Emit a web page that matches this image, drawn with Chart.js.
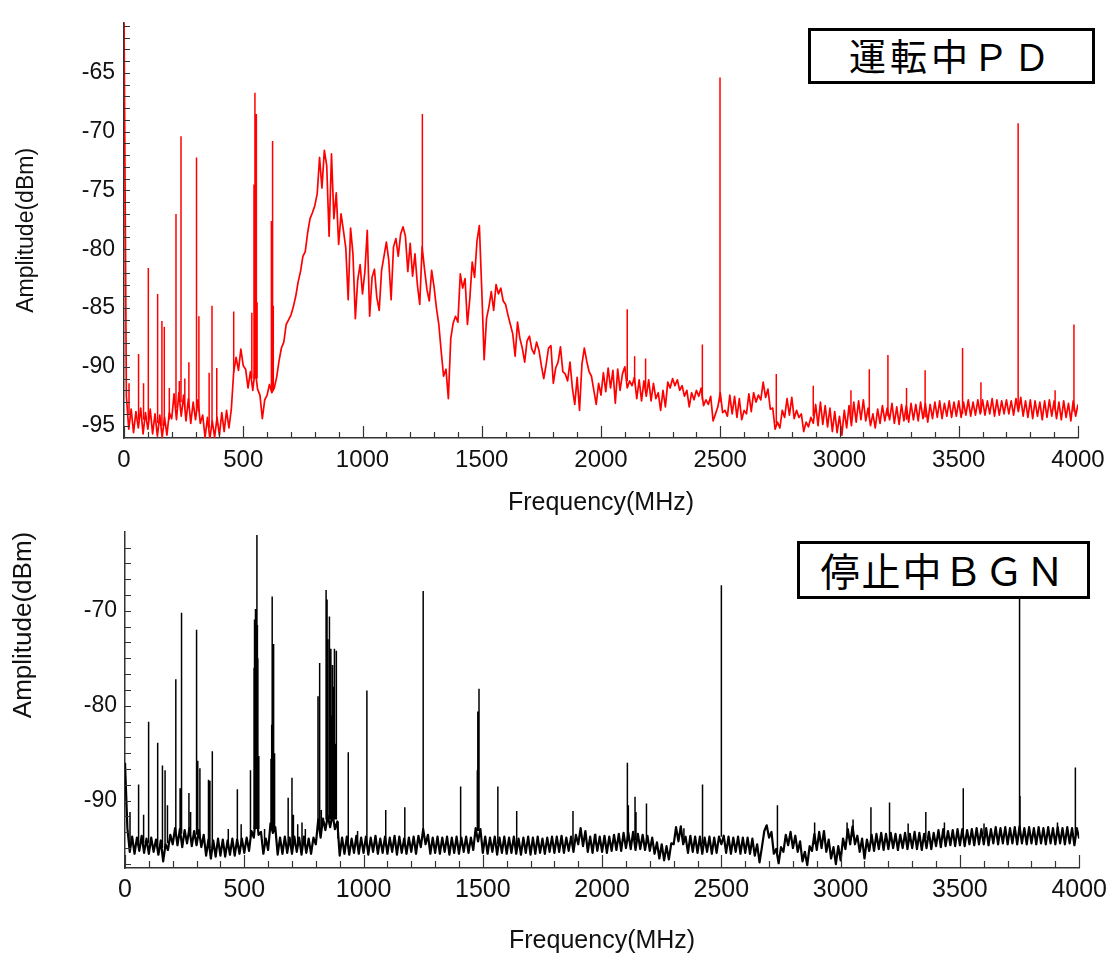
<!DOCTYPE html>
<html>
<head>
<meta charset="utf-8">
<script src="https://cdn.jsdelivr.net/npm/chart.js@4.4.1/dist/chart.umd.min.js"></script>
<style>
  body { margin: 0; background: #fff; }
  #wrap { position: relative; width: 1114px; height: 956px; }
  canvas { position: absolute; left: 0; }
  #topChart { top: 0; }
  #bottomChart { top: 510px; }
  .tag {
    position: absolute; box-sizing: border-box; border: 3px solid #000; background: #fff;
    font-family: "Noto Sans CJK JP", sans-serif; color: #000; text-align: center; white-space: nowrap;
  }
  #tagTop { left: 808px; top: 28px; width: 287px; height: 56px; font-size: 37px; line-height: 49px; letter-spacing: 4px; }
  #tagBottom { left: 797px; top: 541px; width: 293px; height: 58px; font-size: 39px; line-height: 51px; letter-spacing: 2px; }
</style>
</head>
<body>
<div id="wrap">
  <canvas id="topChart" width="1114" height="525"></canvas>
  <canvas id="bottomChart" width="1114" height="446"></canvas>
  <div class="tag" id="tagTop">運転中ＰＤ</div>
  <div class="tag" id="tagBottom">停止中ＢＧＮ</div>
</div>
<script>
// spectra on a 10 MHz grid (0..4000 MHz)
var freqStep = 10;

// running (運転中PD) - red
var redBase = [
  -60.0, -92.5, -95.3, -93.6, -95.6, -93.8, -95.2, -93.5, -95.7, -93.9,
  -95.3, -93.6, -95.7, -94.0, -95.9, -94.1, -96.0, -94.3, -95.8, -93.9,
  -94.4, -92.3, -94.5, -92.2, -94.2, -92.4, -94.6, -92.7, -94.8, -93.0,
  -94.5, -92.8, -94.8, -94.1, -96.0, -94.3, -96.1, -94.6, -96.0, -94.3,
  -95.8, -93.9, -95.5, -93.7, -95.2, -93.6, -90.4, -89.2, -90.3, -88.5,
  -89.9, -90.2, -91.8, -90.4, -92.0, -90.2, -91.9, -92.4, -94.4, -92.8,
  -92.4, -91.5, -92.2, -91.8, -90.9, -89.5, -88.4, -87.9, -86.4, -86.0,
  -85.6, -84.9, -84.0, -82.8, -81.9, -80.6, -80.2, -78.6, -77.4, -76.9,
  -76.3, -75.3, -72.2, -74.8, -71.6, -72.9, -78.9, -71.9, -77.4, -75.2,
  -79.6, -77.0, -78.4, -79.9, -84.3, -78.2, -80.4, -85.9, -82.6, -81.3,
  -83.8, -81.9, -78.4, -85.7, -82.4, -81.7, -84.1, -85.2, -81.8, -80.6,
  -79.4, -80.9, -84.3, -79.8, -79.1, -80.6, -78.7, -78.1, -78.9, -81.9,
  -79.5, -82.3, -80.4, -83.0, -84.7, -79.8, -81.7, -83.4, -84.4, -81.8,
  -83.2, -85.0, -86.4, -88.7, -90.8, -90.2, -92.7, -87.6, -86.3, -85.7,
  -86.2, -82.1, -83.3, -82.5, -86.4, -84.2, -81.1, -82.4, -79.3, -78.0,
  -83.4, -89.4, -85.9, -84.9, -83.6, -85.2, -83.0, -83.8, -83.3, -84.4,
  -84.7, -85.6, -86.4, -87.2, -89.1, -86.2, -87.6, -88.4, -89.6, -87.8,
  -87.4, -88.5, -88.9, -87.9, -88.6, -89.9, -91.0, -89.8, -88.4, -88.2,
  -91.4, -90.1, -89.6, -88.3, -90.4, -90.6, -91.2, -89.6, -91.8, -93.2,
  -90.9, -93.7, -89.8, -88.4, -89.5, -90.4, -90.8, -92.0, -93.2, -91.4,
  -92.4, -90.5, -92.1, -90.1, -91.8, -90.3, -93.1, -90.2, -92.0, -90.6,
  -90.0, -91.8, -91.2, -91.6, -90.9, -92.7, -91.1, -92.9, -91.2, -92.5,
  -91.1, -92.9, -91.4, -92.7, -92.2, -93.7, -92.0, -93.4, -91.3, -91.8,
  -91.0, -91.6, -91.1, -92.0, -91.6, -92.5, -92.0, -93.4, -92.2, -92.8,
  -92.0, -92.5, -91.8, -93.3, -92.8, -93.2, -92.5, -94.6, -94.0, -93.4,
  -92.2, -93.9, -93.7, -94.2, -92.4, -94.0, -92.5, -94.3, -92.7, -94.5,
  -93.7, -94.0, -92.3, -93.8, -92.2, -93.0, -92.4, -92.8, -91.3, -92.6,
  -91.9, -93.6, -93.5, -95.3, -94.7, -95.2, -93.7, -94.3, -92.7, -94.1,
  -92.6, -94.4, -93.7, -94.3, -94.0, -95.5, -94.7, -95.1, -94.3, -94.8,
  -93.2, -95.0, -93.0, -94.9, -93.3, -95.1, -93.5, -95.5, -93.8, -95.6,
  -94.2, -95.8, -93.7, -95.2, -93.3, -95.0, -93.0, -94.7, -92.9, -94.5,
  -92.8, -94.6, -93.5, -95.0, -94.0, -95.2, -93.6, -94.8, -93.3, -94.6,
  -93.5, -94.5, -93.1, -94.8, -93.4, -94.9, -93.2, -94.6, -93.3, -94.7,
  -93.1, -94.5, -93.2, -94.6, -93.0, -94.4, -93.1, -94.7, -93.2, -94.4,
  -93.0, -94.3, -92.9, -94.4, -93.1, -94.2, -92.9, -94.3, -93.0, -94.2,
  -92.9, -94.3, -93.0, -94.1, -92.8, -94.2, -93.0, -94.1, -92.8, -94.0,
  -92.8, -94.1, -92.9, -94.0, -92.7, -94.2, -92.8, -94.1, -92.9, -94.0,
  -92.8, -94.0, -92.9, -94.1, -92.7, -93.8, -92.6, -94.2, -92.9, -94.3,
  -92.8, -94.4, -92.9, -94.2, -93.0, -94.5, -92.9, -94.3, -92.8, -94.2,
  -92.9, -94.4, -93.0, -94.5, -92.9, -94.3, -93.1, -94.6, -92.9, -94.2,
  -93.2
];

// narrow lines: frequency, foot level, top level
var redSpikeFreq = [21, 61, 82, 102, 141, 159, 169, 190, 218, 232, 239, 255, 272, 304, 314, 357, 369, 389, 460, 536,
  545, 549, 552, 555, 558, 618, 623, 626, 1251, 2110, 2141, 2187, 2425, 2499, 2735, 2890, 3048, 3125, 3203,
  3281, 3359, 3516, 3593, 3749, 3904, 3983];
var redSpikeLow = [-94.0, -94.5, -94.5, -94.5, -94.8, -95.0, -95.0, -94.5, -93.5, -93.0, -93.0, -93.5, -93.5, -93.8, -93.8, -95.2, -95.2, -95.0, -90.5, -91.0,
  -91.0, -91.0, -91.0, -91.0, -91.0, -92.0, -92.0, -92.0, -80.0, -91.2, -91.4, -92.0, -92.8, -93.0, -94.8, -94.2, -94.4, -94.3, -94.2,
  -94.5, -94.3, -94.0, -93.9, -93.5, -93.7, -93.8];
var redSpikeTop = [-91.4, -88.9, -91.4, -81.6, -83.8, -86.1, -86.6, -91.8, -77.0, -91.2, -70.4, -91.0, -89.6, -72.2, -85.7, -90.5, -84.8, -90.1, -85.3, -85.4,
  -74.5, -66.7, -74.3, -68.5, -84.5, -77.6, -70.8, -84.8, -68.5, -85.1, -89.1, -89.3, -88.1, -65.4, -90.6, -91.6, -92.0, -90.2, -89.0,
  -91.8, -90.3, -88.4, -91.3, -69.3, -92.0, -86.4];

// stopped (停止中BGN) - black
var blackBase = [
  -86.0, -92.9, -95.4, -93.8, -95.6, -93.9, -95.3, -93.7, -95.5, -94.0,
  -95.6, -93.9, -95.4, -94.1, -95.7, -94.2, -96.4, -94.6, -95.2, -93.6,
  -94.6, -92.9, -94.7, -93.0, -94.9, -93.1, -94.5, -92.9, -94.8, -93.2,
  -94.7, -93.1, -94.9, -93.6, -95.8, -94.1, -96.1, -94.2, -95.9, -94.0,
  -95.8, -94.1, -95.9, -94.2, -95.7, -94.0, -95.8, -94.1, -95.6, -94.0,
  -95.5, -93.9, -95.3, -93.2, -93.9, -91.2, -93.6, -93.3, -95.6, -94.0,
  -95.2, -92.4, -93.4, -92.8, -95.7, -93.9, -95.6, -93.8, -95.5, -93.9,
  -95.6, -93.8, -95.4, -93.9, -95.7, -93.8, -95.5, -94.0, -95.6, -93.9,
  -94.6, -92.0, -93.9, -91.9, -93.1, -91.6, -92.8, -91.4, -93.0, -92.2,
  -95.8, -93.9, -95.6, -93.8, -95.7, -94.0, -95.5, -93.7, -95.6, -93.9,
  -95.5, -93.8, -95.7, -93.9, -95.4, -93.7, -95.6, -94.0, -95.5, -93.8,
  -95.6, -93.9, -95.4, -93.7, -95.7, -93.8, -95.5, -94.0, -95.6, -93.9,
  -95.4, -93.8, -95.6, -93.7, -94.9, -93.0, -94.6, -93.6, -95.6, -93.9,
  -95.5, -93.8, -95.6, -93.9, -95.4, -93.8, -95.7, -93.9, -95.5, -93.8,
  -95.6, -93.9, -95.4, -93.8, -95.5, -93.9, -95.2, -92.9, -94.3, -93.0,
  -95.5, -93.8, -95.6, -93.9, -95.4, -93.8, -95.7, -93.9, -95.5, -93.8,
  -95.6, -93.9, -95.5, -93.8, -95.6, -94.0, -95.7, -93.9, -95.5, -93.8,
  -95.7, -93.9, -95.6, -93.8, -95.5, -94.0, -95.6, -93.9, -95.4, -93.8,
  -95.5, -93.8, -95.4, -93.7, -95.5, -93.9, -95.3, -93.8, -95.4, -93.6,
  -94.6, -92.9, -94.8, -93.2, -95.4, -93.8, -95.5, -93.6, -95.3, -93.8,
  -95.4, -93.7, -95.5, -93.8, -95.3, -93.6, -95.2, -93.5, -95.3, -93.4,
  -95.0, -93.4, -95.1, -93.3, -95.2, -93.5, -95.1, -93.6, -95.2, -93.7,
  -95.3, -93.9, -95.6, -94.4, -96.1, -94.6, -96.3, -94.8, -96.2, -94.5,
  -94.6, -92.8, -94.3, -92.7, -94.6, -93.8, -95.5, -93.7, -95.4, -93.8,
  -95.5, -93.8, -95.6, -93.9, -95.4, -93.8, -95.6, -93.9, -95.5, -93.8,
  -94.6, -93.7, -95.5, -93.8, -95.6, -93.9, -95.4, -93.8, -95.6, -93.9,
  -95.5, -93.9, -95.6, -94.0, -95.8, -94.6, -96.5, -94.9, -93.2, -92.6,
  -93.9, -93.3, -95.6, -95.1, -96.6, -94.9, -95.4, -93.6, -94.7, -93.3,
  -95.0, -93.7, -95.4, -94.3, -96.4, -95.4, -96.8, -94.8, -95.3, -93.5,
  -95.2, -93.3, -95.0, -93.2, -95.4, -94.1, -96.1, -94.9, -96.7, -94.8,
  -96.3, -94.0, -95.1, -93.0, -94.6, -92.7, -94.6, -93.7, -95.4, -94.0,
  -96.1, -94.1, -95.3, -93.6, -95.3, -93.5, -95.1, -93.4, -95.2, -93.5,
  -95.1, -93.4, -95.0, -93.5, -95.2, -93.6, -95.0, -93.4, -95.1, -93.5,
  -95.0, -93.3, -95.1, -93.4, -95.2, -93.5, -95.0, -93.3, -95.1, -93.4,
  -94.8, -93.1, -94.9, -93.0, -94.8, -93.2, -94.7, -93.1, -94.8, -93.0,
  -94.7, -93.0, -94.8, -93.1, -94.6, -93.0, -94.7, -92.9, -94.6, -93.0,
  -94.6, -92.9, -94.7, -93.0, -94.5, -92.8, -94.6, -92.9, -94.5, -92.8,
  -94.6, -92.9, -94.5, -92.8, -94.6, -92.7, -94.5, -92.9, -94.6, -92.8,
  -94.5, -92.9, -94.6, -92.8, -94.5, -92.9, -94.6, -92.8, -94.5, -92.9,
  -94.6, -92.8, -94.5, -92.9, -94.6, -92.8, -94.5, -92.9, -94.7, -92.9,
  -94.0
];

var blackSpikeFreq = [21, 57, 78, 99, 137, 157, 168, 178, 213, 231, 237, 268, 275, 300, 305, 314, 350, 356, 366, 433,
  471, 487, 526, 541, 543, 545, 547, 549, 551, 553, 555, 557, 561, 585, 612, 615, 617, 620, 623, 627,
  684, 700, 706, 724, 742, 756, 809, 816, 823, 843, 847, 850, 857, 860, 863, 866, 870, 874, 878, 882,
  886, 893, 936, 975, 1014, 1093, 1173, 1250, 1407, 1477, 1479, 1481, 1484, 1563, 1642, 1878, 1973, 2106, 2110, 2138,
  2142, 2186, 2343, 2421, 2500, 2735, 2891, 3027, 3052, 3127, 3205, 3283, 3357, 3435, 3514, 3601, 3750, 3752, 3909, 3984];
var blackSpikeLow = [-94.5, -94.5, -94.5, -94.5, -94.8, -95.0, -95.0, -94.5, -93.5, -93.5, -93.5, -93.5, -93.5, -93.6, -93.6, -93.8, -95.0, -95.0, -95.0, -95.0,
  -94.8, -94.8, -93.8, -93.0, -93.0, -93.0, -93.0, -93.0, -93.0, -93.0, -93.0, -93.0, -93.0, -94.5, -93.0, -93.0, -93.0, -93.0, -93.0, -93.0,
  -94.8, -94.8, -94.8, -94.8, -94.8, -94.8, -93.0, -93.0, -93.0, -92.0, -92.0, -92.0, -92.0, -92.0, -92.0, -92.0, -92.0, -92.0, -92.0, -92.0,
  -92.0, -94.0, -94.8, -94.8, -94.8, -94.8, -94.8, -93.5, -94.6, -93.2, -93.2, -93.2, -93.2, -94.6, -94.8, -94.6, -94.6, -94.2, -94.2, -94.2,
  -94.2, -94.5, -94.4, -94.6, -93.8, -95.5, -94.6, -94.0, -93.8, -94.4, -94.2, -94.3, -94.0, -93.9, -93.8, -93.6, -93.6, -93.6, -93.6, -93.6];
var blackSpikeTop = [-91.2, -88.3, -91.5, -81.7, -83.9, -86.3, -86.8, -90.5, -77.2, -88.7, -70.2, -89.2, -91.2, -72.0, -85.8, -86.6, -87.8, -87.9, -84.8, -93.0,
  -88.8, -92.5, -86.8, -76.0, -70.9, -71.2, -69.8, -70.5, -70.0, -62.0, -71.5, -75.0, -85.3, -93.0, -85.6, -82.0, -68.5, -76.0, -73.5, -85.0,
  -89.7, -87.6, -91.5, -92.5, -92.3, -93.0, -79.0, -75.5, -91.0, -67.8, -68.8, -73.0, -70.6, -79.0, -74.0, -81.0, -75.7, -78.0, -74.0, -84.0,
  -74.2, -92.2, -84.9, -93.2, -78.4, -91.0, -90.7, -67.9, -88.5, -86.8, -80.6, -80.8, -78.2, -88.5, -91.1, -91.1, -93.5, -86.0, -90.5, -89.6,
  -91.2, -90.3, -92.9, -88.3, -67.3, -90.5, -92.3, -92.3, -92.0, -90.7, -90.2, -92.4, -91.2, -92.3, -88.7, -92.4, -64.0, -89.5, -92.3, -86.5];

var xTickValues = [0, 500, 1000, 1500, 2000, 2500, 3000, 3500, 4000];
var topYTickValues = [-95, -90, -85, -80, -75, -70, -65];
var bottomYTickValues = [-90, -80, -70];

function baseData(arr) {
  return arr.map(function (v, i) { return { x: i * freqStep, y: v }; });
}

function spikeData(freqs, lows, tops) {
  var out = [];
  for (var i = 0; i < freqs.length; i++) {
    out.push({ x: freqs[i], y: lows[i] });
    out.push({ x: freqs[i], y: tops[i] });
    out.push({ x: freqs[i], y: null });
  }
  return out;
}

// inward tick marks (major + minor) along both axes
var tickMarks = {
  id: 'tickMarks',
  afterDraw: function (chart, args, o) {
    var ctx = chart.ctx, a = chart.chartArea, x = chart.scales.x, y = chart.scales.y;
    ctx.save();
    ctx.strokeStyle = '#333';
    ctx.lineWidth = 1.2;
    ctx.beginPath();
    for (var v = 0; v <= x.max + 0.1; v += o.xMinor) {
      var px = Math.round(x.getPixelForValue(v)) + 0.5;
      var len = (v % o.xMajor === 0) ? o.xMajorLen : o.xMinorLen;
      ctx.moveTo(px, a.bottom);
      ctx.lineTo(px, a.bottom - len);
    }
    var k0 = Math.ceil((y.min - o.yRef) / o.yMinor - 1e-6);
    var k1 = Math.floor((y.max - o.yRef) / o.yMinor + 1e-6);
    for (var k = k0; k <= k1; k++) {
      var py = Math.round(y.getPixelForValue(o.yRef + k * o.yMinor)) + 0.5;
      ctx.moveTo(a.left, py);
      ctx.lineTo(a.left + o.yLen, py);
    }
    ctx.stroke();
    ctx.restore();
  }
};

function panel(id, cfg) {
  return new Chart(document.getElementById(id), {
    type: 'line',
    data: {
      datasets: [
        {
          data: baseData(cfg.base), borderColor: cfg.color, borderWidth: cfg.lineWidth,
          pointRadius: 0, tension: 0, borderJoinStyle: 'round'
        },
        {
          data: spikeData(cfg.spikeFreq, cfg.spikeLow, cfg.spikeTop), borderColor: cfg.color, borderWidth: 1.5,
          pointRadius: 0, tension: 0, spanGaps: false
        }
      ]
    },
    options: {
      responsive: false,
      animation: false,
      devicePixelRatio: 1,
      layout: { padding: { top: cfg.padTop, right: cfg.padRight, bottom: 0, left: 0 } },
      plugins: {
        legend: { display: false },
        tooltip: { enabled: false },
        tickMarks: cfg.marks
      },
      scales: {
        x: {
          type: 'linear', min: 0, max: 4000,
          grid: { display: false, drawTicks: false },
          border: { display: true, color: '#333', width: 1.5 },
          afterBuildTicks: function (s) { s.ticks = xTickValues.map(function (v) { return { value: v }; }); },
          afterFit: function (s) { s.height = cfg.xHeight; },
          ticks: {
            padding: cfg.xTickPad, color: '#111', maxRotation: 0,
            font: { family: 'Liberation Sans, Arial, sans-serif', size: cfg.xTickSize },
            callback: function (v) { return String(v); }
          },
          title: {
            display: true, text: 'Frequency(MHz)', color: '#111',
            font: { family: 'Liberation Sans, Arial, sans-serif', size: 25 },
            padding: { top: 0, bottom: cfg.xTitlePad }
          }
        },
        y: {
          type: 'linear', min: cfg.yMin, max: cfg.yMax,
          grid: { display: false, drawTicks: false },
          border: { display: true, color: '#333', width: 1.5 },
          afterBuildTicks: function (s) { s.ticks = cfg.yTicks.map(function (v) { return { value: v }; }); },
          afterFit: function (s) { s.width = cfg.yWidth; },
          ticks: {
            padding: cfg.yTickPad, color: '#111',
            font: { family: 'Liberation Sans, Arial, sans-serif', size: 23 },
            callback: function (v) { return String(v); }
          },
          title: {
            display: true, text: 'Amplitude(dBm)', align: cfg.yTitleAlign, color: '#111',
            font: { family: 'Liberation Sans, Arial, sans-serif', size: cfg.yTitleSize },
            padding: { top: cfg.yTitlePad, bottom: 0 }
          }
        }
      }
    },
    plugins: [tickMarks]
  });
}

panel('topChart', {
  base: redBase, spikeFreq: redSpikeFreq, spikeLow: redSpikeLow, spikeTop: redSpikeTop, color: '#ff0000', lineWidth: 1.7,
  padTop: 10, padRight: 36, xHeight: 87, yWidth: 124,
  yMin: -96.05, yMax: -60.75, yTicks: topYTickValues,
  xTickPad: 8, xTickSize: 24, xTitlePad: 7, yTickPad: 9,
  yTitleAlign: 'center', yTitleSize: 23, yTitlePad: 13,
  marks: { xMinor: 100, xMajor: 500, xMajorLen: 12, xMinorLen: 6, yRef: -65, yMinor: 1, yLen: 6 }
});

panel('bottomChart', {
  base: blackBase, spikeFreq: blackSpikeFreq, spikeLow: blackSpikeLow, spikeTop: blackSpikeTop, color: '#000000', lineWidth: 2.2,
  padTop: 8, padRight: 32, xHeight: 88, yWidth: 125,
  yMin: -97.1, yMax: -61.67, yTicks: bottomYTickValues,
  xTickPad: 7, xTickSize: 25, xTitlePad: 0, yTickPad: 8,
  yTitleAlign: 'end', yTitleSize: 26, yTitlePad: 8,
  marks: { xMinor: 100, xMajor: 500, xMajorLen: 13, xMinorLen: 7, yRef: -70, yMinor: 10 / 6, yLen: 6 }
});
</script>
</body>
</html>
